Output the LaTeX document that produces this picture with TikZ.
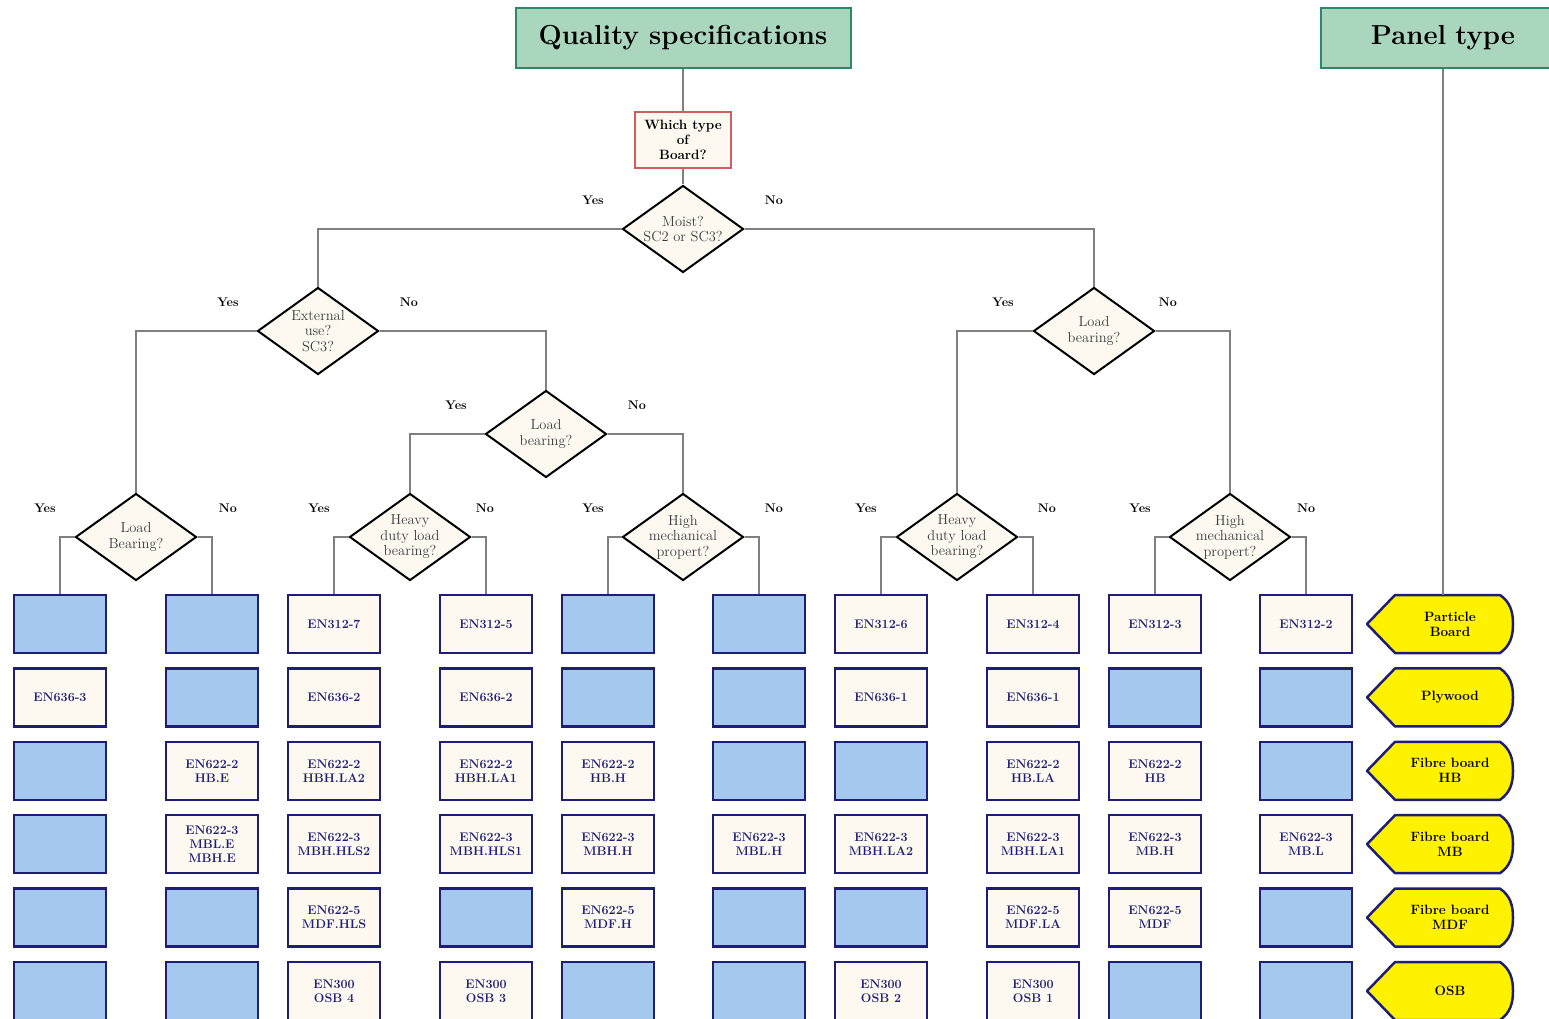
\documentclass[tikz,border=0pt]{standalone}
\usepackage{tikz}
\usetikzlibrary{positioning}
\usetikzlibrary{shapes.geometric}

\definecolor{navy}{RGB}{30,30,120}
\definecolor{cream}{RGB}{253,249,240}
\definecolor{lblue}{RGB}{164,200,238}
\definecolor{hgreen}{RGB}{170,214,190}
\definecolor{hedge}{RGB}{45,135,105}
\definecolor{wire}{RGB}{128,128,128}
\definecolor{qred}{RGB}{205,95,95}
\definecolor{qtext}{RGB}{60,60,60}

\newcommand{\rowy}[1]{624+73.4*(#1-1)}

\begin{document}
\begin{tikzpicture}[x=1pt, y=-1pt,
    hdr/.style={draw=hedge, line width=2pt, fill=hgreen, minimum height=60pt,
      font=\fontsize{27.5}{32}\selectfont\bfseries},
    which/.style={draw=qred, line width=1.2pt, fill=cream, align=center,
      minimum width=96pt, minimum height=56pt, inner sep=1pt,
      font=\fontsize{13.5}{15}\selectfont\bfseries},
    quest/.style={diamond, draw=black, line width=2pt, fill=cream, align=center,
      minimum width=121pt, minimum height=87pt, inner sep=-9pt, text=qtext,
      font=\fontsize{14.5}{15.5}\selectfont},
    yn/.style={font=\fontsize{12.5}{14}\selectfont\bfseries},
    wire/.style={draw=wire, line width=1.8pt},
    blank/.style={draw=navy, line width=2.5pt, fill=lblue,
      minimum width=92pt, minimum height=58pt},
    spec/.style={blank, fill=cream, text=navy, align=center, inner sep=1pt,
      font=\fontsize{12.5}{14}\selectfont\bfseries},
    pshape/.style={draw=navy, line width=2.5pt, fill=yellow, line join=round},
    ptext/.style={align=center, minimum width=130pt, minimum height=58pt,
      font=\fontsize{13.5}{15}\selectfont\bfseries}]

  \useasboundingbox (0,0) rectangle (1549,1019);
  \clip (0,0) rectangle (1549,1019);

  % headers
  \node[hdr, minimum width=335pt] (qs) at (683,38) {Quality specifications};
  \node[hdr, minimum width=244pt, text width=226pt, align=center] (pt) at (1443,38) {Panel type};

  \node[which] (wt) at (683,140) {Which type\\of\\Board?};

  % decisions
  \node[quest] (dm) at (683,229) {Moist?\\SC2 or SC3?};
  \node[quest] (dx) at (318,331) {External\\use?\\SC3?};
  \node[quest] (dl2) at (1094,331) {Load\\bearing?};
  \node[quest] (dl1) at (546,434) {Load\\bearing?};
  \node[quest] (dlb) at (136,537) {Load\\Bearing?};
  \node[quest] (dh1) at (410,537) {Heavy\\duty load\\bearing?};
  \node[quest] (dk1) at (683,537) {High\\mechanical\\propert?};
  \node[quest] (dh2) at (957,537) {Heavy\\duty load\\bearing?};
  \node[quest] (dk2) at (1230,537) {High\\mechanical\\propert?};

  \node[yn] (y1) at (593,200) {Yes};   \node[yn] (n1) at (774,200) {No};
  \node[yn] (y2) at (228,302) {Yes};   \node[yn] (n2) at (409,302) {No};
  \node[yn] (y3) at (1003,302) {Yes};  \node[yn] (n3) at (1168,302) {No};
  \node[yn] (y4) at (456,405) {Yes};   \node[yn] (n4) at (637,405) {No};
  \node[yn] (y5) at (45,508) {Yes};    \node[yn] (n5) at (228,508) {No};
  \node[yn] (y6) at (319,508) {Yes};   \node[yn] (n6) at (485,508) {No};
  \node[yn] (y7) at (593,508) {Yes};   \node[yn] (n7) at (774,508) {No};
  \node[yn] (y8) at (866,508) {Yes};   \node[yn] (n8) at (1047,508) {No};
  \node[yn] (y9) at (1140,508) {Yes};  \node[yn] (n9) at (1306,508) {No};

  % standards grid
  \foreach \st/\txt [count=\r] in {blank/{},spec/EN636-3,blank/{},blank/{},blank/{},blank/{}}
    \node[\st] (a\r) at (60,{\rowy{\r}}) {\txt};
  \foreach \st/\txt [count=\r] in {blank/{},blank/{},spec/{EN622-2\\HB.E},spec/{EN622-3\\MBL.E\\MBH.E},blank/{},blank/{}}
    \node[\st] (b\r) at (212,{\rowy{\r}}) {\txt};
  \foreach \st/\txt [count=\r] in {spec/EN312-7,spec/EN636-2,spec/{EN622-2\\HBH.LA2},spec/{EN622-3\\MBH.HLS2},spec/{EN622-5\\MDF.HLS},spec/{EN300\\OSB 4}}
    \node[\st] (c\r) at (334,{\rowy{\r}}) {\txt};
  \foreach \st/\txt [count=\r] in {spec/EN312-5,spec/EN636-2,spec/{EN622-2\\HBH.LA1},spec/{EN622-3\\MBH.HLS1},blank/{},spec/{EN300\\OSB 3}}
    \node[\st] (d\r) at (486,{\rowy{\r}}) {\txt};
  \foreach \st/\txt [count=\r] in {blank/{},blank/{},spec/{EN622-2\\HB.H},spec/{EN622-3\\MBH.H},spec/{EN622-5\\MDF.H},blank/{}}
    \node[\st] (e\r) at (608,{\rowy{\r}}) {\txt};
  \foreach \st/\txt [count=\r] in {blank/{},blank/{},blank/{},spec/{EN622-3\\MBL.H},blank/{},blank/{}}
    \node[\st] (f\r) at (759,{\rowy{\r}}) {\txt};
  \foreach \st/\txt [count=\r] in {spec/EN312-6,spec/EN636-1,blank/{},spec/{EN622-3\\MBH.LA2},blank/{},spec/{EN300\\OSB 2}}
    \node[\st] (g\r) at (881,{\rowy{\r}}) {\txt};
  \foreach \st/\txt [count=\r] in {spec/EN312-4,spec/EN636-1,spec/{EN622-2\\HB.LA},spec/{EN622-3\\MBH.LA1},spec/{EN622-5\\MDF.LA},spec/{EN300\\OSB 1}}
    \node[\st] (h\r) at (1033,{\rowy{\r}}) {\txt};
  \foreach \st/\txt [count=\r] in {spec/EN312-3,blank/{},spec/{EN622-2\\HB},spec/{EN622-3\\MB.H},spec/{EN622-5\\MDF},blank/{}}
    \node[\st] (i\r) at (1155,{\rowy{\r}}) {\txt};
  \foreach \st/\txt [count=\r] in {spec/EN312-2,blank/{},blank/{},spec/{EN622-3\\MB.L},blank/{},blank/{}}
    \node[\st] (j\r) at (1306,{\rowy{\r}}) {\txt};

  % panel types
  \foreach \name [count=\r] in {{Particle\\Board},Plywood,{Fibre board\\HB},{Fibre board\\MB},{Fibre board\\MDF},OSB} {
    \pgfmathsetmacro\yy{\rowy{\r}}
    \draw[pshape] (1367,\yy) -- (1395,\yy-29) -- (1500,\yy-29)
      to[out=-35,in=90] (1513,\yy) to[out=-90,in=35] (1500,\yy+29)
      -- (1395,\yy+29) -- cycle;
    \node[ptext] (p\r) at (1450,\yy) {\name};
  }

  % connectors
  \draw[wire] (qs.south) -- (wt.north);
  \draw[wire] (wt.south) -- (dm.north);
  \draw[wire] (dm.west) -| (dx.north);
  \draw[wire] (dm.east) -| (dl2.north);
  \draw[wire] (dx.west) -| (dlb.north);
  \draw[wire] (dx.east) -| (dl1.north);
  \draw[wire] (dl1.west) -| (dh1.north);
  \draw[wire] (dl1.east) -| (dk1.north);
  \draw[wire] (dl2.west) -| (dh2.north);
  \draw[wire] (dl2.east) -| (dk2.north);
  \draw[wire] (dlb.west) -| (a1.north);
  \draw[wire] (dlb.east) -| (b1.north);
  \draw[wire] (dh1.west) -| (c1.north);
  \draw[wire] (dh1.east) -| (d1.north);
  \draw[wire] (dk1.west) -| (e1.north);
  \draw[wire] (dk1.east) -| (f1.north);
  \draw[wire] (dh2.west) -| (g1.north);
  \draw[wire] (dh2.east) -| (h1.north);
  \draw[wire] (dk2.west) -| (i1.north);
  \draw[wire] (dk2.east) -| (j1.north);
  \draw[wire] (pt.south) -- (pt.south |- p1.north);

\end{tikzpicture}
\end{document}
